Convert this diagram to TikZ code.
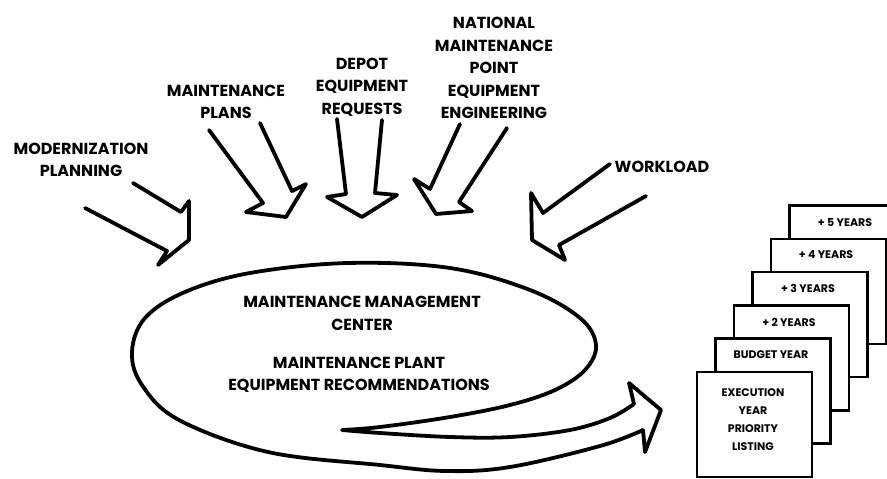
\documentclass[tikz,border=0pt]{standalone}
\usepackage{fontspec}
\newfontfamily\lab{Poppins}
\begin{document}
\begin{tikzpicture}[x=1pt,y=-1pt,
  lbl/.style={font=\lab\bfseries\fontsize{16}{22.5}\selectfont, align=center, inner sep=0pt},
  crd/.style={font=\lab\bfseries\fontsize{11}{18}\selectfont, align=center, inner sep=0pt},
  outl/.style={line width=3.8pt, line join=round, line cap=round},
  card/.style={draw, fill=white, line width=2.6pt}]
\useasboundingbox (0,0) rectangle (887,479);

% labels
\node[lbl] (mod) at (81,160) {MODERNIZATION\\PLANNING};
\node[lbl] (plans) at (226,102) {MAINTENANCE\\PLANS};
\node[lbl] (depot) at (362,87) {DEPOT\\EQUIPMENT\\REQUESTS};
\node[lbl] (nat) at (494,68) {NATIONAL\\MAINTENANCE\\POINT\\EQUIPMENT\\ENGINEERING};
\node[lbl] (work) at (662,167) {WORKLOAD};

% input block arrows
\draw[outl] (133,183)--(181,212)--(189,201)--(189,240)--(158,265)--(167,251)--(85,208);
\draw[outl] (209,130)--(263,203)--(246,212)--(286,217)--(306,184)--(292,191)--(260,123);
\draw[outl] (337,119)--(346,194)--(327,197)--(362,217)--(397,195)--(375,193)--(382,120);
\draw[outl] (460,124)--(430,189)--(414,179)--(436,214)--(472,211)--(459,202)--(507,128);
\draw[outl] (610,164)--(543,213)--(531,193)--(532,240)--(565,260)--(559,245)--(646,196);

% centre loop turning into an arrow
\draw[outl] plot[smooth, tension=0.6] coordinates {(643,430) (600,446) (510,467) (446,471) (380,465) (268,452) (179,420) (142,385) (132,352) (145,318) (185,292) (250,273) (348,263) (450,268) (530,290) (580,318) (596,345) (585,370) (555,390) (510,405) (450,417) (380,427) (342,430)}
  -- plot[smooth, tension=0.6] coordinates {(342,430) (380,433) (450,437) (510,437) (570,430) (610,418) (634,404)}
  -- (629,383) -- (661,410) -- (645,452) -- (643,430);

\node[lbl] (mmc) at (362,313.5) {MAINTENANCE MANAGEMENT\\CENTER};
\node[lbl] (mpe) at (359,375) {MAINTENANCE PLANT\\EQUIPMENT RECOMMENDATIONS};

% stacked cards (back to front)
\foreach \i in {5,4,...,0}{
  \draw[card] ({697+18.5*\i},{372-33.3*\i}) rectangle ++(115,105);
}
\node[crd] (c5) at (845,223) {+ 5 YEARS};
\node[crd] (c4) at (826,255) {+ 4 YEARS};
\node[crd] (c3) at (808,288) {+ 3 YEARS};
\node[crd] (c2) at (789,322) {+ 2 YEARS};
\node[crd] (c1) at (771,355) {BUDGET YEAR};
\node[crd] (c0) at (753,420) {EXECUTION\\YEAR\\PRIORITY\\LISTING};
\end{tikzpicture}
\end{document}
